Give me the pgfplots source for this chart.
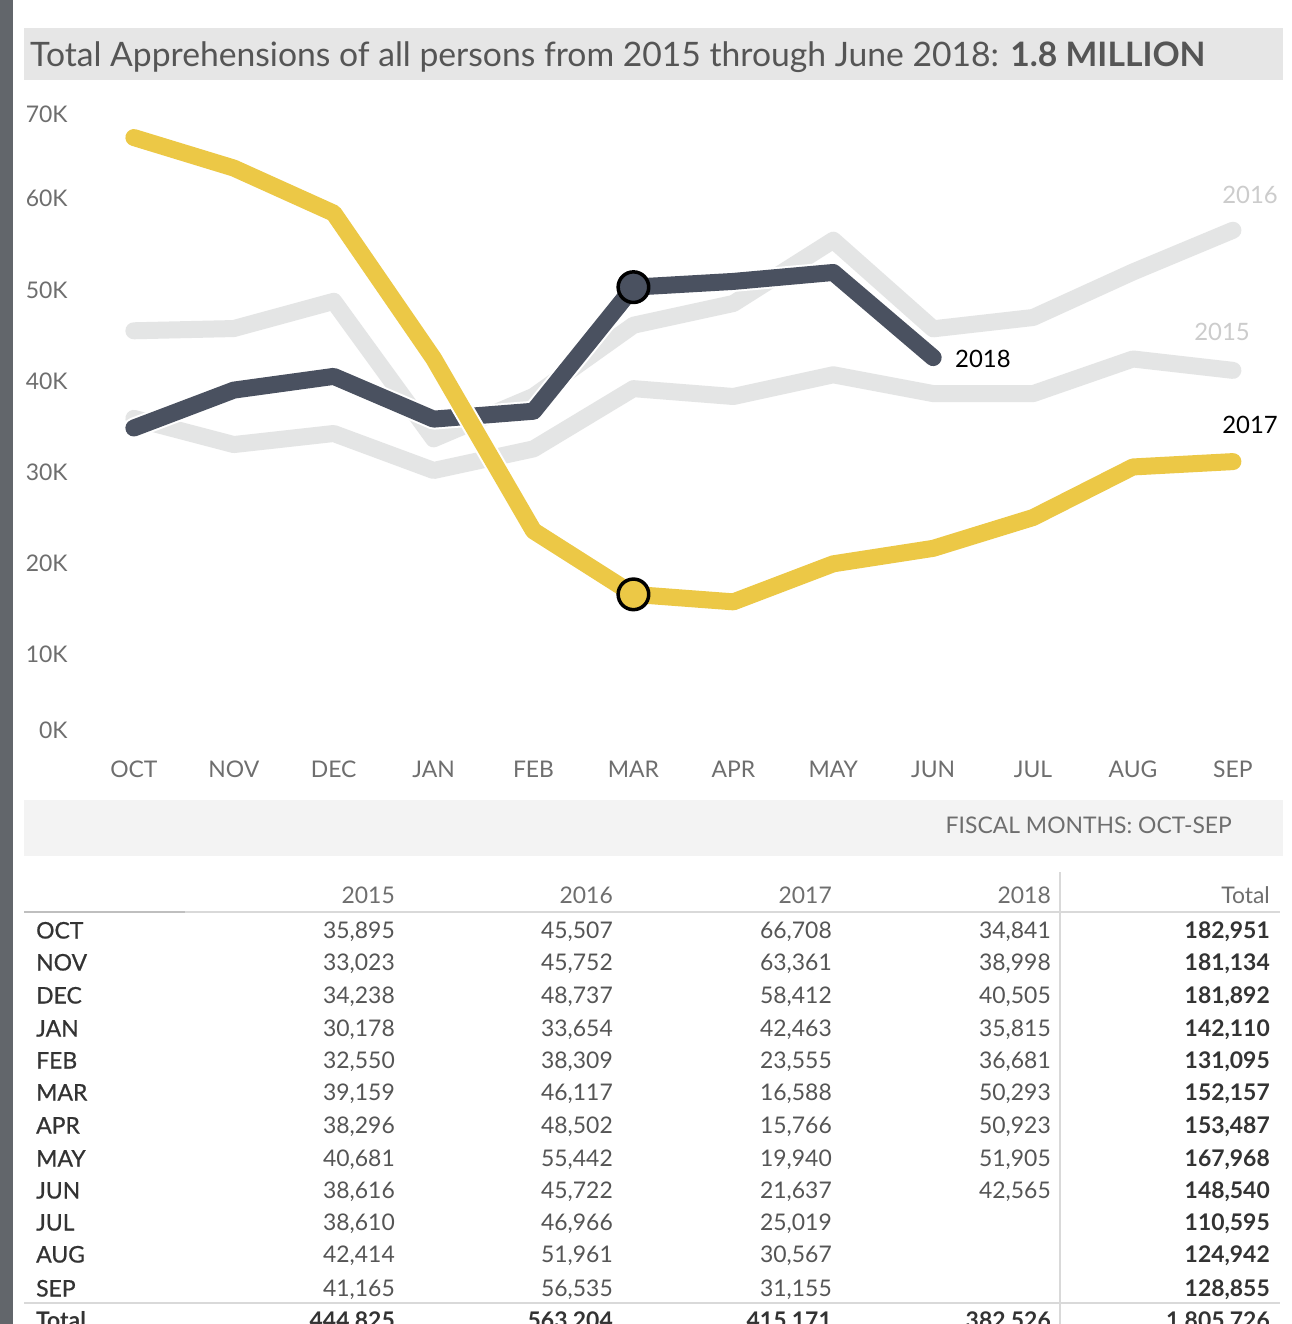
\documentclass[border=0pt]{standalone}
\usepackage{pgfplots}
\usepackage{pgfplotstable}
\pgfplotsset{compat=1.18}
\usepackage{fontspec}
\setmainfont{Lato}
\definecolor{yel}{HTML}{ECC846}
\definecolor{drk}{HTML}{4A5160}
\definecolor{lg}{HTML}{E4E5E5}
\definecolor{titlebg}{HTML}{E6E6E6}
\definecolor{fbg}{HTML}{F3F3F3}
\definecolor{tgray}{HTML}{555555}
\definecolor{tick}{HTML}{6E6E6E}
\definecolor{numc}{HTML}{555555}
\definecolor{labc}{HTML}{333333}
\definecolor{rule}{HTML}{D9D9D9}
\definecolor{strip}{HTML}{62666B}

\pgfplotstableread{
m v
0 35895
1 33023
2 34238
3 30178
4 32550
5 39159
6 38296
7 40681
8 38616
9 38610
10 42414
11 41165
}\tabA
\pgfplotstableread{
m v
0 45507
1 45752
2 48737
3 33654
4 38309
5 46117
6 48502
7 55442
8 45722
9 46966
10 51961
11 56535
}\tabB
\pgfplotstableread{
m v
0 66708
1 63361
2 58412
3 42463
4 23555
5 16588
6 15766
7 19940
8 21637
9 25019
10 30567
11 31155
}\tabC
\pgfplotstableread{
m v
0 34841
1 38998
2 40505
3 35815
4 36681
5 50293
6 50923
7 51905
8 42565
}\tabD

\newcommand\fs[1]{\fontsize{#1}{#1}\selectfont}
\newcommand\semib{\addfontfeature{FakeBold=0.7}}
\tikzset{cell/.style={inner sep=0,yshift=-6bp,font=\fs{23}}}
\newcommand\trow[7]{%
  \node[cell,anchor=mid west,text=labc,font=\fs{23}\semib] at (36,-#1) {#2};
  \node[cell,anchor=mid east,text=numc] at (395,-#1) {#3};
  \node[cell,anchor=mid east,text=numc] at (613,-#1) {#4};
  \node[cell,anchor=mid east,text=numc] at (832,-#1) {#5};
  \node[cell,anchor=mid east,text=numc] at (1051,-#1) {#6};
  \node[cell,anchor=mid east,text=labc,font=\fs{23}\bfseries] at (1270,-#1) {#7};
}

\begin{document}
\begin{tikzpicture}[x=1bp,y=1bp]
\path[use as bounding box] (0,0) rectangle (1291,-1324);
\clip (0,0) rectangle (1291,-1324);
\fill[white] (0,0) rectangle (1291,-1324);
\fill[strip] (0,0) rectangle (13,-1324);

% title band
\fill[titlebg] (24,-28) rectangle (1283,-80);
\node[anchor=base west,inner sep=0,text=tgray,font=\fs{33.8}] at (30,-67)
  {Total Apprehensions of all persons from 2015 through June 2018: \textbf{1.8 MILLION}};

\begin{axis}[
  at={(134,-818)}, anchor=origin,
  scale only axis, width=1099bp, height=638bp,
  xmin=0, xmax=11, ymin=0, ymax=70000,
  clip=false,
  axis line style={draw=none},
  major tick length=0pt,
  tick style={draw=none},
  xtick={0,...,11},
  xticklabels={OCT,NOV,DEC,JAN,FEB,MAR,APR,MAY,JUN,JUL,AUG,SEP},
  ytick={10000,20000,30000,40000,50000,60000},
  yticklabels={10K,20K,30K,40K,50K,60K},
  xticklabel style={anchor=center,yshift=-24bp,inner sep=0,text=tick,font=\fs{23}},
  yticklabel style={anchor=east,xshift=-66bp,inner sep=0,text=tick,font=\fs{23}},
  scaled y ticks=false,
  line cap=round, line join=round,
]
\addplot[white, line width=21bp] table[x=m,y=v]{\tabA};
\addplot[lg, line width=17bp] table[x=m,y=v]{\tabA};
\addplot[white, line width=21bp] table[x=m,y=v]{\tabB};
\addplot[lg, line width=17bp] table[x=m,y=v]{\tabB};
\addplot[white, line width=21bp] table[x=m,y=v]{\tabD};
\addplot[drk, line width=17bp] table[x=m,y=v]{\tabD};
\addplot[white, line width=21bp] table[x=m,y=v]{\tabC};
\addplot[yel, line width=17bp] table[x=m,y=v]{\tabC};
\addplot[only marks, mark=*, mark size=15.3bp, mark options={fill=drk, draw=black, line width=3.5bp}] coordinates {(5,50293)};
\addplot[only marks, mark=*, mark size=15.3bp, mark options={fill=yel, draw=black, line width=3.5bp}] coordinates {(5,16588)};
\node[anchor=east,inner sep=0,text=tick,font=\fs{23}] at (axis cs:-0.6607,1650) {0K};
\node[anchor=east,inner sep=0,text=tick,font=\fs{23}] at (axis cs:-0.6607,69233) {70K};
\end{axis}

% series labels
\node[anchor=east,inner sep=0,text=black!20,font=\fs{24}] at (1278,-195) {2016};
\node[anchor=east,inner sep=0,text=black!20,font=\fs{24}] at (1250,-332) {2015};
\node[anchor=east,inner sep=0,text=black,font=\fs{24}] at (1278,-425) {2017};
\node[anchor=west,inner sep=0,text=black,font=\fs{24}] at (955,-359) {2018};

% fiscal band
\fill[fbg] (24,-800) rectangle (1283,-856);
\node[anchor=east,inner sep=0,text=tick,font=\fs{23}] at (1232,-825) {FISCAL MONTHS: OCT-SEP};

% table
\draw[rule, line width=1.5bp] (1060,-872) -- (1060,-1324);
\draw[black!25, line width=1.5bp] (24,-912) -- (185,-912);
\draw[rule, line width=1.5bp] (185,-912) -- (1280,-912);
\draw[rule, line width=1.5bp] (24,-1303) -- (1280,-1303);
\foreach \x/\t in {395/2015,613/2016,832/2017,1051/2018,1270/Total}
  \node[cell,anchor=mid east,text=tick] at (\x,-895) {\t};
\trow{930}{OCT}{35,895}{45,507}{66,708}{34,841}{182,951}
\trow{962}{NOV}{33,023}{45,752}{63,361}{38,998}{181,134}
\trow{995}{DEC}{34,238}{48,737}{58,412}{40,505}{181,892}
\trow{1028}{JAN}{30,178}{33,654}{42,463}{35,815}{142,110}
\trow{1060}{FEB}{32,550}{38,309}{23,555}{36,681}{131,095}
\trow{1092}{MAR}{39,159}{46,117}{16,588}{50,293}{152,157}
\trow{1125}{APR}{38,296}{48,502}{15,766}{50,923}{153,487}
\trow{1158}{MAY}{40,681}{55,442}{19,940}{51,905}{167,968}
\trow{1190}{JUN}{38,616}{45,722}{21,637}{42,565}{148,540}
\trow{1222}{JUL}{38,610}{46,966}{25,019}{}{110,595}
\trow{1254}{AUG}{42,414}{51,961}{30,567}{}{124,942}
\trow{1288}{SEP}{41,165}{56,535}{31,155}{}{128,855}
\node[cell,anchor=mid west,text=labc,font=\fs{23}\bfseries] at (36,-1320) {Total};
\foreach \x/\t in {395/{444,825},613/{563,204},832/{415,171},1051/{382,526},1270/{1,805,726}}
  \node[cell,anchor=mid east,text=labc,font=\fs{23}\bfseries] at (\x,-1320) {\t};
\end{tikzpicture}
\end{document}
